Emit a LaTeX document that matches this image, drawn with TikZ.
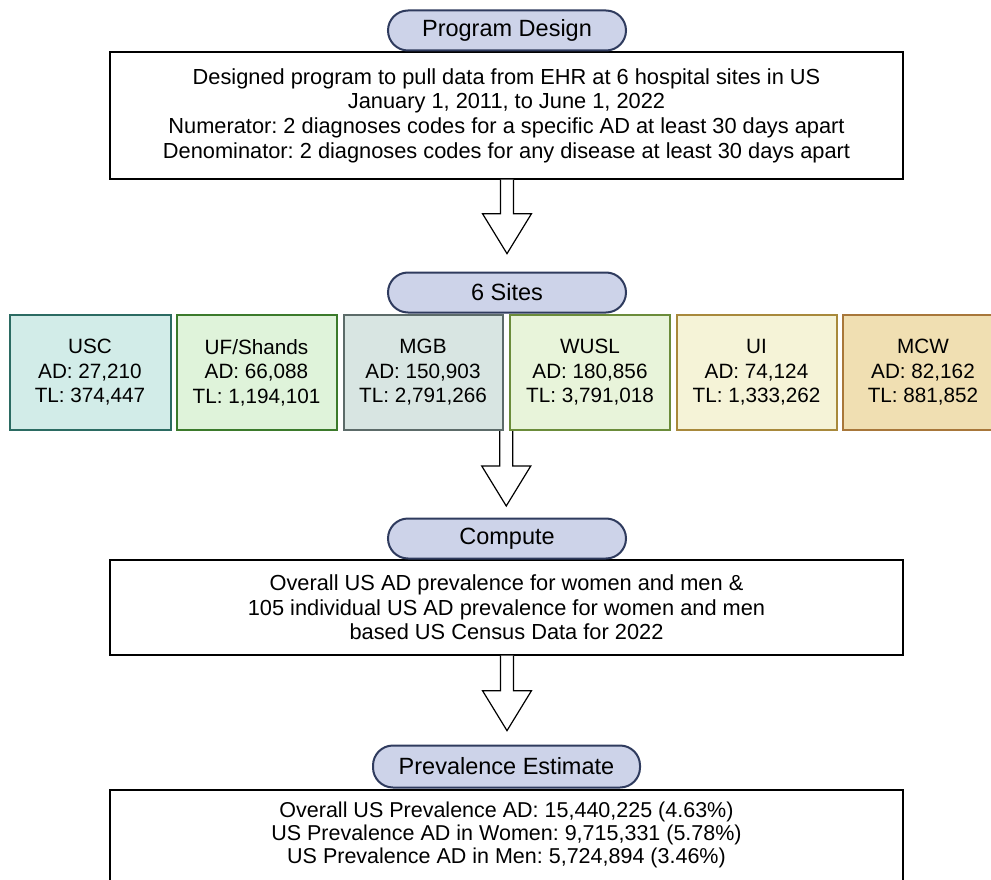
\documentclass[tikz,border=0pt]{standalone}
\usepackage{fontspec}
\setmainfont{Liberation Sans}
\usetikzlibrary{calc}
\definecolor{pillfill}{HTML}{CDD3E9}
\definecolor{pillborder}{HTML}{2F3B5E}
\definecolor{uscfill}{HTML}{D2ECE8}\definecolor{uscdraw}{HTML}{2B6B62}
\definecolor{uffill}{HTML}{DFF3DA}\definecolor{ufdraw}{HTML}{3B7A2B}
\definecolor{mgbfill}{HTML}{D8E5E2}\definecolor{mgbdraw}{HTML}{5C6B69}
\definecolor{wuslfill}{HTML}{E8F4DA}\definecolor{wusldraw}{HTML}{6B8C3A}
\definecolor{uifill}{HTML}{F5F3D7}\definecolor{uidraw}{HTML}{A8893B}
\definecolor{mcwfill}{HTML}{F0DFB2}\definecolor{mcwdraw}{HTML}{A8773A}
\frenchspacing
\begin{document}
\begin{tikzpicture}[x=1pt,y=-1pt,
  pill/.style={draw=pillborder, fill=pillfill, line width=2pt, rounded corners=20pt,
    minimum width=238pt, minimum height=40pt, inner sep=0pt,
    font=\fontsize{23.5}{27}\selectfont},
  textbox/.style={draw=black, line width=1.3pt, fill=white, inner sep=0pt},
  boxtext/.style={align=center, inner sep=0pt, font=\fontsize{21.8}{24.7}\selectfont},
  site/.style={line width=2pt, align=center, inner sep=0pt, minimum height=115pt,
    font=\fontsize{20.7}{24.5}\selectfont},
  blockarrow/.style={draw=black, line width=1.2pt, fill=white, line join=miter}]
\clip (0,0) rectangle (991,880);
\fill[white] (0,0) rectangle (991,880);

% Box 1
\node[textbox, boxtext, minimum width=793pt, minimum height=127pt] (b1) at (506.5,115.5)
  {Designed program to pull data from EHR at 6 hospital sites in US\\
   January 1, 2011, to June 1, 2022\\
   Numerator: 2 diagnoses codes for a specific AD at least 30 days apart\\
   Denominator: 2 diagnoses codes for any disease at least 30 days apart};
\node[pill] (p1) at (507,30.5) {Program Design};

% Arrow 1
\coordinate (a1) at ($(b1.south)+(0.5,0)$);
\draw[blockarrow] (a1) ++(-6.5,0) -- ++(0,34) -- ++(-18,0) -- ++(24.5,40) -- ++(24.5,-40) -- ++(-18,0) -- ++(0,-34);

% Pill 2
\node[pill] (p2) at (507,292.5) {6 Sites};

% Sites
\node[site, draw=uscdraw, fill=uscfill, minimum width=161pt] (usc) at (90,372.5)
  {USC\\AD: 27,210\\TL: 374,447};
\node[site, draw=ufdraw, fill=uffill, minimum width=160pt] (uf) at (256.5,372.5)
  {UF/Shands\\AD: 66,088\\TL: 1,194,101};
\node[site, draw=mgbdraw, fill=mgbfill, minimum width=159pt] (mgb) at (423,372.5)
  {MGB\\AD: 150,903\\TL: 2,791,266};
\node[site, draw=wusldraw, fill=wuslfill, minimum width=160pt] (wusl) at (590,372.5)
  {WUSL\\AD: 180,856\\TL: 3,791,018};
\node[site, draw=uidraw, fill=uifill, minimum width=160pt] (ui) at (756.5,372.5)
  {UI\\AD: 74,124\\TL: 1,333,262};
\node[site, draw=mcwdraw, fill=mcwfill, minimum width=160pt] (mcw) at (923,372.5)
  {MCW\\AD: 82,162\\TL: 881,852};

% Arrow 2
\coordinate (a2) at ($(mgb.south east)!0.5!(wusl.south west)$);
\draw[blockarrow] (a2) ++(-6.5,0) -- ++(0,35) -- ++(-18,0) -- ++(24.5,40) -- ++(24.5,-40) -- ++(-18,0) -- ++(0,-35);

% Box 3
\node[textbox, boxtext, minimum width=793pt, minimum height=95pt] (b3) at (506.5,607.5)
  {Overall US AD prevalence for women and men \&\\
   105 individual US AD prevalence for women and men\\
   based US Census Data for 2022};
\node[pill] (p3) at (507,538.5) {Compute};

% Arrow 3
\coordinate (a3) at ($(b3.south)+(0.5,0)$);
\draw[blockarrow] (a3) ++(-6.5,0) -- ++(0,35) -- ++(-18,0) -- ++(24.5,40) -- ++(24.5,-40) -- ++(-18,0) -- ++(0,-35);

% Box 4
\node[textbox, minimum width=793pt, minimum height=110pt] (b4) at (506.5,845) {};
\node[boxtext, anchor=north, font=\fontsize{21.5}{23}\selectfont] (b4t) at ($(b4.north)+(0,12)$)
  {Overall US Prevalence AD: 15,440,225 (4.63\%)\\
   US Prevalence AD in Women: 9,715,331 (5.78\%)\\
   US Prevalence AD in Men: 5,724,894 (3.46\%)};
\node[pill, minimum width=267pt, minimum height=42pt] (p4) at (506.5,766.5) {Prevalence Estimate};
\end{tikzpicture}
\end{document}
